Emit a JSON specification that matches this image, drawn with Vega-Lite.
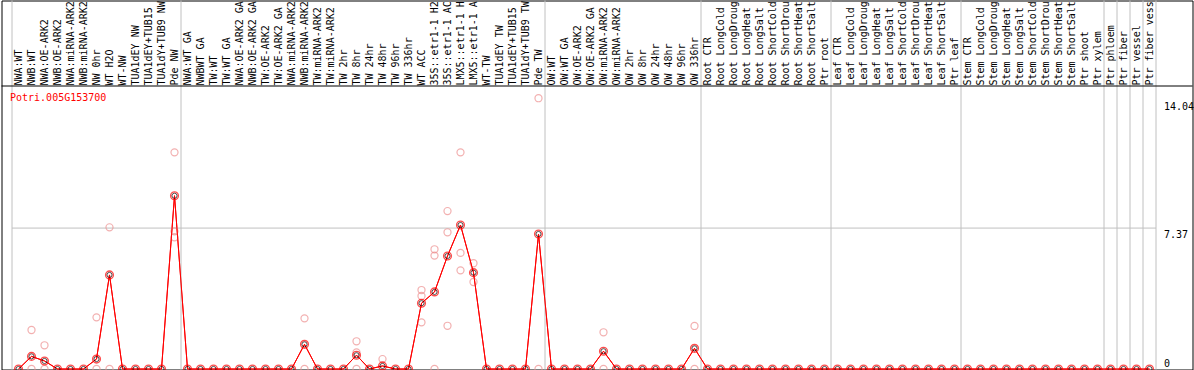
{
"$schema": "https://vega.github.io/schema/vega-lite/v6.json",
"width": 1191, "height": 369,
"autosize": {"type": "none"},
"padding": {"left": 1.5, "top": 0.5, "right": 1.5, "bottom": 0},
"background": "white",
"config": {"view": {"stroke": "black", "strokeWidth": 1}, "font": "DejaVu Sans Mono"},
"datasets": {
"means": [
{"k":"00|NWA:WT","mean":0},{"k":"01|NWB:WT","mean":0.66},{"k":"02|NWA:OE-ARK2","mean":0.42},{"k":"03|NWB:OE-ARK2","mean":0},
{"k":"04|NWA:miRNA-ARK2","mean":0},{"k":"05|NWB:miRNA-ARK2","mean":0},{"k":"06|NW 0hr","mean":0.52},{"k":"07|WT H2O","mean":4.92},
{"k":"08|WT-NW","mean":0},{"k":"09|TUA1dEY NW","mean":0},{"k":"10|TUA1dEY+TUB15","mean":0},{"k":"11|TUA1dY+TUB9 NW","mean":0},
{"k":"12|Pde NW","mean":9.06},{"k":"13|NWA:WT GA","mean":0},{"k":"14|NWBWT GA","mean":0},{"k":"15|TW:WT","mean":0},
{"k":"16|TW:WT GA","mean":0},{"k":"17|NWA:OE-ARK2 GA","mean":0},{"k":"18|NWB:OE-ARK2 GA","mean":0},{"k":"19|TW:OE-ARK2","mean":0},
{"k":"20|TW:OE-ARK2 GA","mean":0},{"k":"21|NWA:miRNA-ARK2","mean":0},{"k":"22|NWB:miRNA-ARK2","mean":1.29},{"k":"23|TW:miRNA-ARK2","mean":0},
{"k":"24|TW:miRNA-ARK2","mean":0},{"k":"25|TW 2hr","mean":0},{"k":"26|TW 8hr","mean":0.72},{"k":"27|TW 24hr","mean":0},
{"k":"28|TW 48hr","mean":0.16},{"k":"29|TW 96hr","mean":0},{"k":"30|TW 336hr","mean":0},{"k":"31|WT ACC","mean":3.44},
{"k":"32|35S::etr1-1 H2","mean":4.03},{"k":"33|35S::etr1-1 AC","mean":5.91},{"k":"34|LMX5::etr1-1 H","mean":7.53},{"k":"35|LMX5::etr1-1 A","mean":5.04},
{"k":"36|WT-TW","mean":0},{"k":"37|TUA1dEY TW","mean":0},{"k":"38|TUA1dEY+TUB15","mean":0},{"k":"39|TUA1dY+TUB9 TW","mean":0},
{"k":"40|Pde TW","mean":7.06},{"k":"41|OW:WT","mean":0},{"k":"42|OW:WT GA","mean":0},{"k":"43|OW:OE-ARK2","mean":0},
{"k":"44|OW:OE-ARK2 GA","mean":0},{"k":"45|OW:miRNA-ARK2","mean":0.93},{"k":"46|OW:miRNA-ARK2","mean":0},{"k":"47|OW 2hr","mean":0},
{"k":"48|OW 8hr","mean":0},{"k":"49|OW 24hr","mean":0},{"k":"50|OW 48hr","mean":0},{"k":"51|OW 96hr","mean":0},
{"k":"52|OW 336hr","mean":1.08},{"k":"53|Root CTR","mean":0},{"k":"54|Root LongCold","mean":0},{"k":"55|Root LongDroug","mean":0},
{"k":"56|Root LongHeat","mean":0},{"k":"57|Root LongSalt","mean":0},{"k":"58|Root ShortCold","mean":0},{"k":"59|Root ShortDrou","mean":0},
{"k":"60|Root ShortHeat","mean":0},{"k":"61|Root ShortSalt","mean":0},{"k":"62|Ptr root","mean":0},{"k":"63|Leaf CTR","mean":0},
{"k":"64|Leaf LongCold","mean":0},{"k":"65|Leaf LongDroug","mean":0},{"k":"66|Leaf LongHeat","mean":0},{"k":"67|Leaf LongSalt","mean":0},
{"k":"68|Leaf ShortCold","mean":0},{"k":"69|Leaf ShortDrou","mean":0},{"k":"70|Leaf ShortHeat","mean":0},{"k":"71|Leaf ShortSalt","mean":0},
{"k":"72|Ptr leaf","mean":0},{"k":"73|Stem CTR","mean":0},{"k":"74|Stem LongCold","mean":0},{"k":"75|Stem LongDroug","mean":0},
{"k":"76|Stem LongHeat","mean":0},{"k":"77|Stem LongSalt","mean":0},{"k":"78|Stem ShortCold","mean":0},{"k":"79|Stem ShortDrou","mean":0},
{"k":"80|Stem ShortHeat","mean":0},{"k":"81|Stem ShortSalt","mean":0},{"k":"82|Ptr shoot","mean":0},{"k":"83|Ptr xylem","mean":0},
{"k":"84|Ptr phloem","mean":0},{"k":"85|Ptr fiber","mean":0},{"k":"86|Ptr vessel","mean":0},{"k":"87|Ptr fiber vess","mean":0}
],
"reps": [
{"k":"01|NWB:WT","v":2.04},{"k":"01|NWB:WT","v":0},
{"k":"02|NWA:OE-ARK2","v":1.24},{"k":"02|NWA:OE-ARK2","v":0},
{"k":"06|NW 0hr","v":2.7},{"k":"06|NW 0hr","v":0},
{"k":"07|WT H2O","v":7.41},{"k":"07|WT H2O","v":0},
{"k":"12|Pde NW","v":11.33},{"k":"12|Pde NW","v":6.89},{"k":"12|Pde NW","v":7.2},
{"k":"22|NWB:miRNA-ARK2","v":2.65},{"k":"22|NWB:miRNA-ARK2","v":0},
{"k":"26|TW 8hr","v":1.45},{"k":"26|TW 8hr","v":0.87},{"k":"26|TW 8hr","v":0},
{"k":"28|TW 48hr","v":0.52},
{"k":"31|WT ACC","v":4.13},{"k":"31|WT ACC","v":3.82},{"k":"31|WT ACC","v":2.44},
{"k":"32|35S::etr1-1 H2","v":6.26},{"k":"32|35S::etr1-1 H2","v":5.93},{"k":"32|35S::etr1-1 H2","v":0},
{"k":"33|35S::etr1-1 AC","v":8.26},{"k":"33|35S::etr1-1 AC","v":7.15},{"k":"33|35S::etr1-1 AC","v":2.26},
{"k":"34|LMX5::etr1-1 H","v":11.33},{"k":"34|LMX5::etr1-1 H","v":6.07},{"k":"34|LMX5::etr1-1 H","v":5.16},
{"k":"35|LMX5::etr1-1 A","v":5.53},{"k":"35|LMX5::etr1-1 A","v":4.55},
{"k":"40|Pde TW","v":14.16},{"k":"40|Pde TW","v":0},
{"k":"45|OW:miRNA-ARK2","v":1.92},{"k":"45|OW:miRNA-ARK2","v":0},
{"k":"52|OW 336hr","v":2.25},{"k":"52|OW 336hr","v":0}
],
"bounds": [
{"k":"00|NWA:WT"},{"k":"13|NWA:WT GA"},{"k":"41|OW:WT"},{"k":"53|Root CTR"},{"k":"63|Leaf CTR"},
{"k":"73|Stem CTR"},{"k":"84|Ptr phloem"},{"k":"85|Ptr fiber"},{"k":"86|Ptr vessel"},{"k":"87|Ptr fiber vess"}
]
},
"layer": [
{
"data": {"name": "means"},
"mark": {"type": "line", "color": "#ff0000", "strokeWidth": 1},
"encoding": {
"x": {"field": "k", "type": "ordinal",
"scale": {"type": "band", "range": [10.5, 1154.5], "paddingInner": 0, "paddingOuter": 0},
"axis": {"orient": "top", "offset": -85.5, "domain": false, "ticks": false, "tickSize": 0, "grid": false,
"labelAngle": -90, "labelAlign": "left", "labelBaseline": "middle", "labelPadding": 1,
"labelFont": "DejaVu Sans Mono", "labelFontSize": 10, "labelColor": "black",
"labelExpr": "split(datum.label, '|')[1]", "labelOverlap": false, "labelLimit": 0, "labelBound": false, "title": null}},
"y": {"field": "mean", "type": "quantitative",
"scale": {"domain": [0, 14.8], "range": [368.5, 85.5], "nice": false, "zero": false},
"axis": {"orient": "right", "offset": -36, "values": [0, 7.37, 14.04], "domain": false, "ticks": false, "tickSize": 0,
"grid": false,
"labelFont": "DejaVu Sans Mono", "labelFontSize": 10, "labelColor": "black", "labelAlign": "left", "labelPadding": 7,
"labelBaseline": {"condition": {"test": "datum.value == 0", "value": "alphabetic"}, "value": "top"},
"labelOffset": {"condition": {"test": "datum.value == 0", "value": -3}, "value": 1},
"labelExpr": "datum.value == 0 ? '0' : format(datum.value, '.2f')",
"labelOverlap": false, "labelFlush": false, "labelBound": false, "title": null}}
}
},
{
"data": {"name": "bounds"},
"mark": {"type": "rule", "color": "#c0c0c0", "strokeWidth": 1},
"encoding": {
"x": {"field": "k", "type": "ordinal", "bandPosition": 0}
}
},
{
"data": {"values": [{"k":"87|Ptr fiber vess"}]},
"mark": {"type": "rule", "color": "#c0c0c0", "strokeWidth": 1},
"encoding": {"x": {"field": "k", "type": "ordinal", "bandPosition": 1}}
},
{
"data": {"values": [{"from": "00|NWA:WT", "to": "87|Ptr fiber vess", "level": 7.37}]},
"mark": {"type": "rule", "color": "#c0c0c0", "strokeWidth": 1},
"encoding": {
"x": {"field": "from", "type": "ordinal", "bandPosition": 0},
"x2": {"field": "to", "bandPosition": 1},
"y": {"field": "level", "type": "quantitative"}
}
},
{
"data": {"name": "reps"},
"mark": {"type": "point", "shape": "circle", "filled": false, "size": 50, "stroke": "#ee9090", "strokeWidth": 1.2},
"encoding": {
"x": {"field": "k", "type": "ordinal"},
"y": {"field": "v", "type": "quantitative"}
}
},
{
"data": {"name": "means"},
"mark": {"type": "line", "color": "#ff0000", "strokeWidth": 1},
"encoding": {
"x": {"field": "k", "type": "ordinal"},
"y": {"field": "mean", "type": "quantitative"}
}
},
{
"data": {"name": "means"},
"mark": {"type": "point", "shape": "circle", "filled": false, "size": 60, "stroke": "#ff0000", "strokeWidth": 1.4},
"encoding": {
"x": {"field": "k", "type": "ordinal"},
"y": {"field": "mean", "type": "quantitative"}
}
},
{
"data": {"name": "means"},
"mark": {"type": "point", "shape": "circle", "filled": false, "size": 26, "stroke": "#000000", "strokeWidth": 0.8, "opacity": 0.85},
"encoding": {
"x": {"field": "k", "type": "ordinal"},
"y": {"field": "mean", "type": "quantitative"}
}
},
{
"data": {"values": [{"gene": "Potri.005G153700"}]},
"mark": {"type": "text", "align": "left", "baseline": "top", "dx": -2, "dy": 7, "color": "#ff0000", "font": "DejaVu Sans Mono", "fontSize": 10},
"encoding": {
"x": {"datum": "00|NWA:WT", "type": "ordinal", "bandPosition": 0},
"y": {"datum": 14.8, "type": "quantitative"},
"text": {"field": "gene"}
}
},
{
"data": {"values": [{"top": 14.8}]},
"mark": {"type": "rule", "color": "#000000", "strokeWidth": 1},
"encoding": {"y": {"field": "top", "type": "quantitative"}}
}
]
}
